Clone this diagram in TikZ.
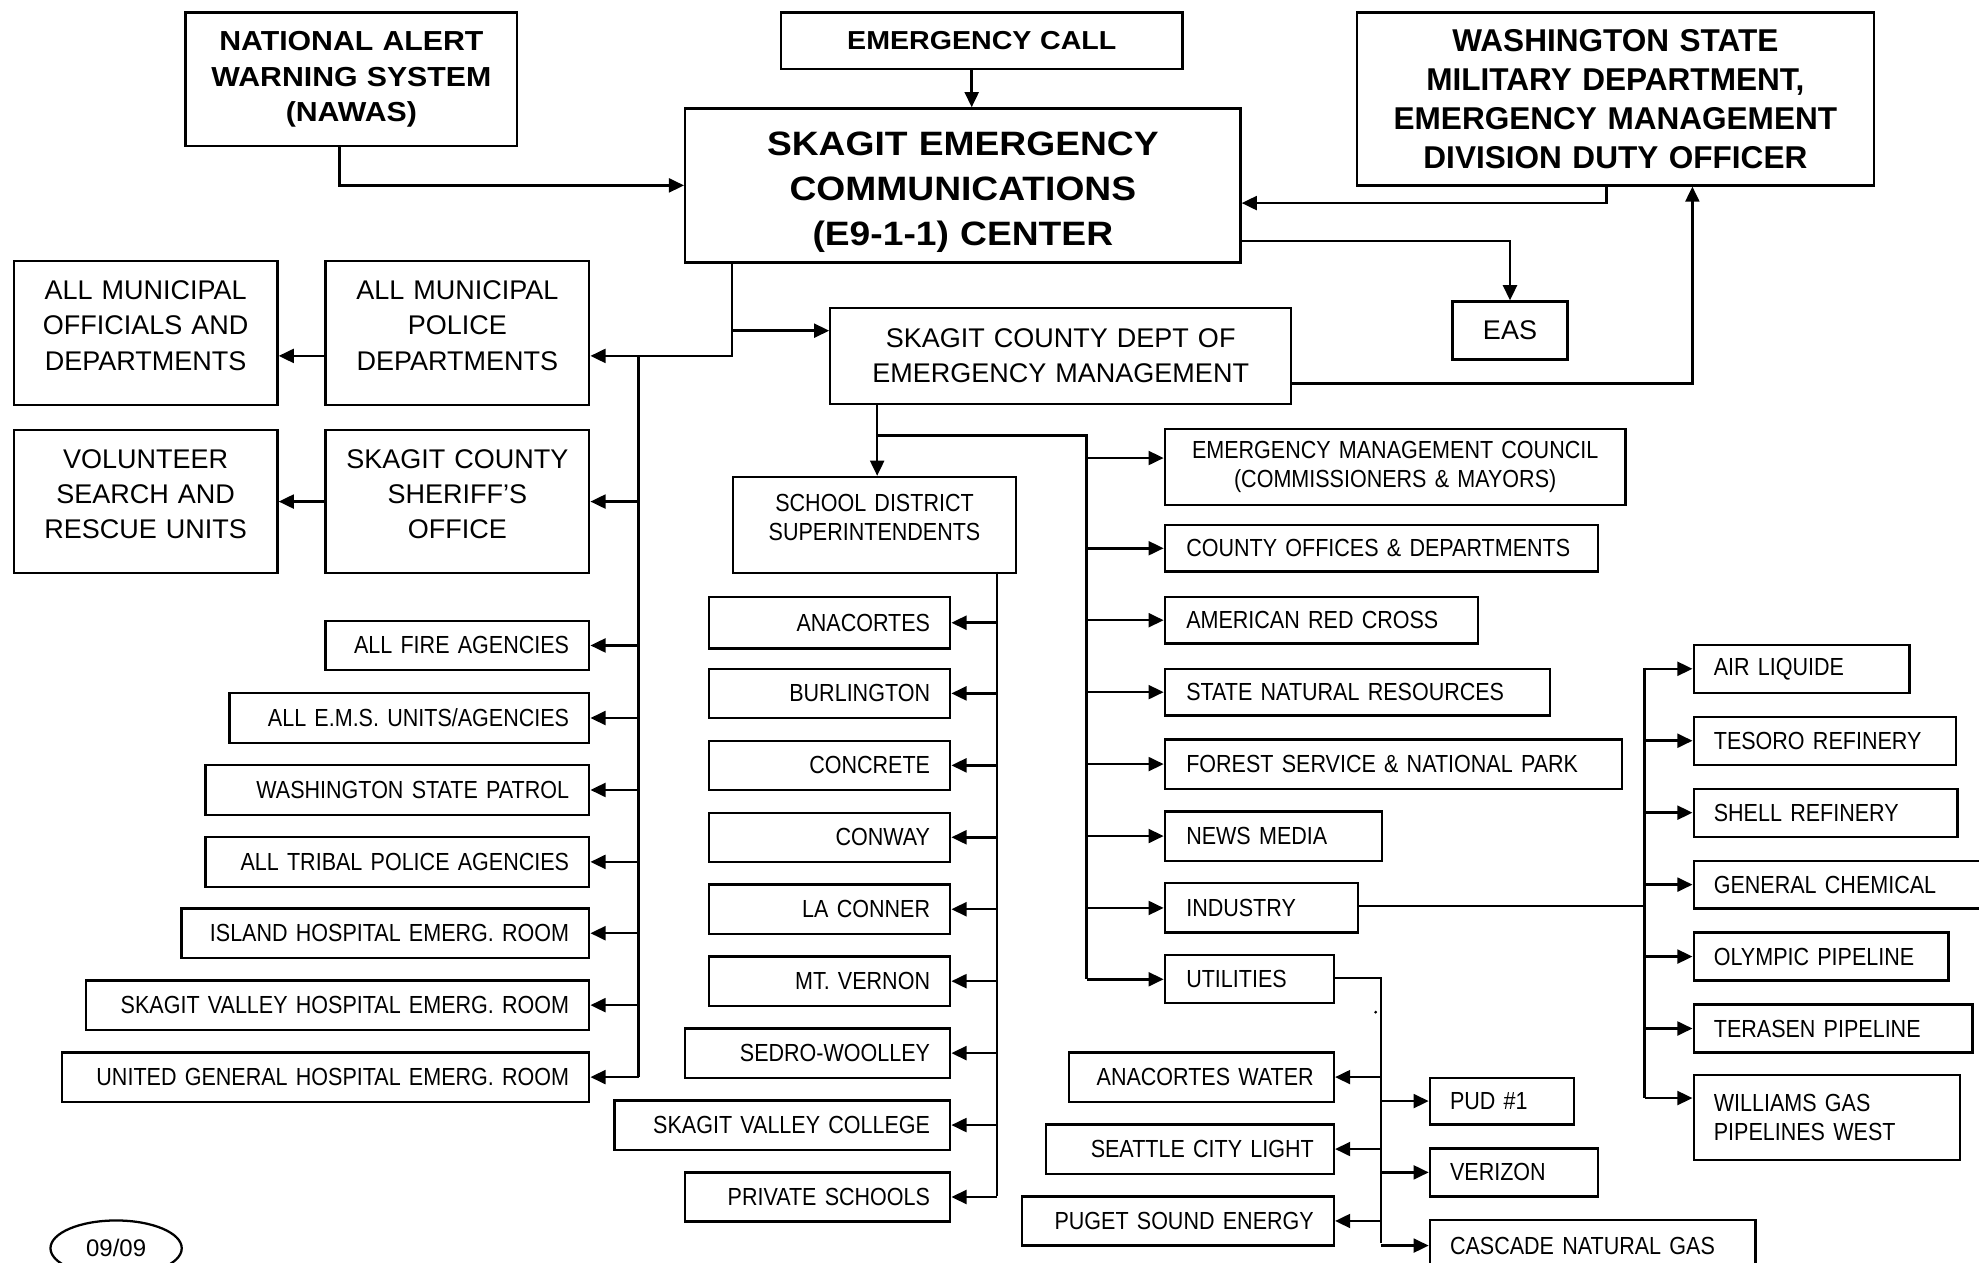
\documentclass[tikz,border=0pt]{standalone}
\usepackage{fontspec}
\setmainfont{Liberation Sans}
\newfontfamily\smallfam[FakeStretch=0.87]{Liberation Sans}
\newfontfamily\widefam[FakeStretch=1.1]{Liberation Sans}
\usetikzlibrary{arrows.meta,shapes.geometric}
\newcommand\fsS{\smallfam\fontsize{9.8}{11.5}\selectfont}
\newcommand\fsM{\fontsize{10.7}{14}\selectfont}
\newcommand\fsNA{\widefam\fontsize{10.9}{14}\selectfont\bfseries}
\newcommand\fsCA{\widefam\fontsize{10.3}{14}\selectfont\bfseries}
\newcommand\fsWA{\fontsize{12.5}{15.5}\selectfont\bfseries}
\newcommand\fsBIG{\widefam\fontsize{13.4}{17.75}\selectfont\bfseries}
\newcommand\xdp[1]{\rule[-#1]{0pt}{0pt}}
% #1 style, #2 pad (pt), #3 name, #4 x1, #5 y1, #6 x2, #7 y2, #8 text
\newcommand\bx[8]{%
  \pgfmathsetmacro\bw{(#6-#4)*0.5}%
  \pgfmathsetmacro\bh{(#7-#5)*0.5}%
  \pgfmathsetmacro\tw{\bw-2*#2}%
  \node[box,#1,inner xsep=#2pt,text width=\tw pt,minimum height=\bh pt,anchor=north west] (#3) at (#4,#5) {#8};}
\begin{document}
\begin{tikzpicture}[x=0.5pt,y=-0.5pt,
  box/.style={draw,line width=0.9pt,inner ysep=0pt},
  conn/.style={line width=1pt},
  arr/.style={conn,-{Triangle[length=6pt,width=5.5pt]}},
  cS/.style={align=center,font=\fsS},
  rS/.style={align=right,font=\fsS},
  lS/.style={align=left,font=\fsS},
  cM/.style={align=center,font=\fsM}]
\useasboundingbox (0,0) rectangle (1568,1000);
% top
\bx{align=center,font=\fsNA}{4}{nawas}{146}{9}{409}{115}{NATIONAL ALERT\\WARNING SYSTEM\\(NAWAS)}
\bx{align=center,font=\fsCA}{4}{call}{618}{9}{936}{54}{EMERGENCY CALL}
\bx{align=center,font=\fsBIG}{4}{e911}{542}{85}{982}{207}{\rule{0pt}{14.6pt}SKAGIT EMERGENCY\\COMMUNICATIONS\\(E9-1-1) CENTER}
\bx{align=center,font=\fsWA}{4}{wa}{1074}{9}{1484}{146}{WASHINGTON STATE\\MILITARY DEPARTMENT,\\EMERGENCY MANAGEMENT\\DIVISION DUTY OFFICER}
\bx{cM}{4}{eas}{1150}{238}{1241}{284}{EAS}
\bx{cM}{4}{dem}{657}{243}{1022}{319}{SKAGIT COUNTY DEPT OF\\EMERGENCY MANAGEMENT}
% left big boxes
\bx{cM}{4}{officials}{10}{206}{219}{320}{ALL MUNICIPAL\\OFFICIALS AND\\DEPARTMENTS\xdp{6pt}}
\bx{cM}{4}{police}{257}{206}{466}{320}{ALL MUNICIPAL\\POLICE\\DEPARTMENTS\xdp{6pt}}
\bx{cM}{4}{volunteer}{10}{340}{219}{453}{VOLUNTEER\\SEARCH AND\\RESCUE UNITS\xdp{6pt}}
\bx{cM}{4}{sheriff}{257}{340}{466}{453}{SKAGIT COUNTY\\SHERIFF'S\\OFFICE\xdp{6pt}}
% left list
\bx{rS}{8}{fire}{257}{491}{466}{530}{ALL FIRE AGENCIES}
\bx{rS}{8}{ems}{181}{548}{466}{588}{ALL E.M.S. UNITS/AGENCIES}
\bx{rS}{8}{wsp}{162}{605}{466}{645}{WASHINGTON STATE PATROL}
\bx{rS}{8}{tribal}{162}{662}{466}{702}{ALL TRIBAL POLICE AGENCIES}
\bx{rS}{8}{island}{143}{719}{466}{758}{ISLAND HOSPITAL EMERG. ROOM}
\bx{rS}{8}{svh}{67}{776}{466}{815}{SKAGIT VALLEY HOSPITAL EMERG. ROOM}
\bx{rS}{8}{ugh}{48}{833}{466}{872}{UNITED GENERAL HOSPITAL EMERG. ROOM}
% schools
\bx{cS}{4}{school}{580}{377}{804}{453}{SCHOOL DISTRICT\\SUPERINTENDENTS\xdp{6pt}}
\bx{rS}{8}{anacortes}{561}{472}{752}{513}{ANACORTES}
\bx{rS}{8}{burlington}{561}{529}{752}{568}{BURLINGTON}
\bx{rS}{8}{concrete}{561}{586}{752}{625}{CONCRETE}
\bx{rS}{8}{conway}{561}{643}{752}{682}{CONWAY}
\bx{rS}{8}{laconner}{561}{700}{752}{739}{LA CONNER}
\bx{rS}{8}{mtvernon}{561}{757}{752}{796}{MT. VERNON}
\bx{rS}{8}{sedro}{542}{814}{752}{853}{SEDRO-WOOLLEY}
\bx{rS}{8}{svc}{486}{871}{752}{910}{SKAGIT VALLEY COLLEGE}
\bx{rS}{8}{private}{542}{928}{752}{967}{PRIVATE SCHOOLS}
% right column
\bx{cS}{4}{emc}{922}{339}{1287}{399}{EMERGENCY MANAGEMENT COUNCIL\\(COMMISSIONERS \& MAYORS)}
\bx{lS}{8.5}{cod}{922}{415}{1265}{452}{COUNTY OFFICES \& DEPARTMENTS}
\bx{lS}{8.5}{arc}{922}{472}{1170}{509}{AMERICAN RED CROSS}
\bx{lS}{8.5}{snr}{922}{529}{1227}{566}{STATE NATURAL RESOURCES}
\bx{lS}{8.5}{forest}{922}{585}{1284}{624}{FOREST SERVICE \& NATIONAL PARK}
\bx{lS}{8.5}{news}{922}{642}{1094}{681}{NEWS MEDIA}
\bx{lS}{8.5}{industry}{922}{699}{1075}{738}{INDUSTRY}
\bx{lS}{8.5}{utilities}{922}{756}{1056}{794}{UTILITIES}
% industry list
\bx{lS}{8}{air}{1341}{510}{1512}{548}{AIR LIQUIDE}
\bx{lS}{8}{tesoro}{1341}{567}{1549}{605}{TESORO REFINERY}
\bx{lS}{8}{shell}{1341}{624}{1550}{662}{SHELL REFINERY}
\bx{lS}{8}{genchem}{1341}{681}{1580}{719}{GENERAL CHEMICAL}
\bx{lS}{8}{olympic}{1341}{738}{1543}{776}{OLYMPIC PIPELINE}
\bx{lS}{8}{terasen}{1341}{795}{1562}{833}{TERASEN PIPELINE}
\bx{lS}{8}{williams}{1341}{851}{1552}{918}{WILLIAMS GAS\\PIPELINES WEST}
% utilities list
\bx{rS}{8}{aw}{846}{833}{1056}{872}{ANACORTES WATER}
\bx{rS}{8}{scl}{828}{890}{1056}{929}{SEATTLE CITY LIGHT}
\bx{rS}{8}{pse}{809}{947}{1056}{986}{PUGET SOUND ENERGY}
\bx{lS}{8}{pud}{1132}{853}{1246}{890}{PUD \#1}
\bx{lS}{8}{verizon}{1132}{909}{1265}{947}{VERIZON}
\bx{lS}{8}{cascade}{1132}{966}{1390}{1006}{CASCADE NATURAL GAS}
% date
\node[draw,line width=0.9pt,ellipse,minimum width=52pt,minimum height=22pt,inner sep=0pt,font=\fontsize{9.5}{11}\selectfont] (date) at (92,989) {09/09};
\fill (1090,802) circle (0.6pt);
% junction coordinates
\coordinate (j1) at (580,282);
\coordinate (j2) at (580,262);
\coordinate (lbus) at (506,282);
\coordinate (lbusend) at (506,853);
\coordinate (d1) at (695,345);
\coordinate (rbus) at (861,345);
\coordinate (rbusend) at (861,776);
\coordinate (sbus) at (790,453);
\coordinate (sbusend) at (790,948);
\coordinate (ibus) at (1303,718);
\coordinate (ibustop) at (1303,529);
\coordinate (ibusend) at (1303,870);
\coordinate (ubus) at (1094,775);
\coordinate (ubusend) at (1094,985);
% top connectors
\draw[arr] ([xshift=-4.75pt]nawas.south) |- (e911.west);
\draw[arr] ([xshift=-4pt]call.south) -- ([xshift=-4pt]call.south |- e911.north);
\draw[arr] ([xshift=-3.5pt]wa.south) |- ([yshift=-7pt]e911.east);
\draw[arr] ([yshift=-22pt]e911.east) -| (eas.north);
\draw[arr] ([yshift=-11pt]dem.east) -| ([xshift=30.5pt]wa.south);
% E911 down
\draw[arr] ([xshift=19pt]e911.south west) -- (j1) -- (j1 -| police.east);
\draw[arr] (j2) -- (j2 -| dem.west);
\draw[arr] (police.west |- j1) -- (officials.east |- j1);
\draw[arr] (sheriff.west) -- (volunteer.east);
\draw[conn] (lbus) -- (lbusend);
\foreach \n in {sheriff,fire,ems,wsp,tribal,island,svh,ugh}
  \draw[arr] (\n.east -| lbus) -- (\n.east);
% DEM down
\draw[arr] ([xshift=19pt]dem.south west) -- ([xshift=19pt]dem.south west |- school.north);
\draw[conn] (d1) -- (rbus) -- (rbusend);
\draw[arr] ([yshift=3.5pt]emc.west -| rbus) -- ([yshift=3.5pt]emc.west);
\foreach \n in {cod,arc,snr,forest,news,industry,utilities}
  \draw[arr] (\n.west -| rbus) -- (\n.west);
% schools
\draw[conn] (sbus) -- (sbusend);
\foreach \n in {anacortes,burlington,concrete,conway,laconner,mtvernon,sedro,svc,private}
  \draw[arr] (\n.east -| sbus) -- (\n.east);
% industry
\draw[conn] (industry.east |- ibus) -- (ibus);
\draw[conn] (ibustop) -- (ibusend);
\foreach \n in {air,tesoro,shell,genchem,olympic,terasen}
  \draw[arr] (\n.west -| ibus) -- (\n.west);
\draw[arr] (ibusend) -- (ibusend -| williams.west);
% utilities
\draw[conn] (utilities.east |- ubus) -- (ubus) -- (ubusend);
\foreach \n in {aw,scl,pse}
  \draw[arr] (\n.east -| ubus) -- (\n.east);
\foreach \n in {pud,verizon,cascade}
  \draw[arr] (\n.west -| ubus) -- (\n.west);
\end{tikzpicture}
\end{document}
